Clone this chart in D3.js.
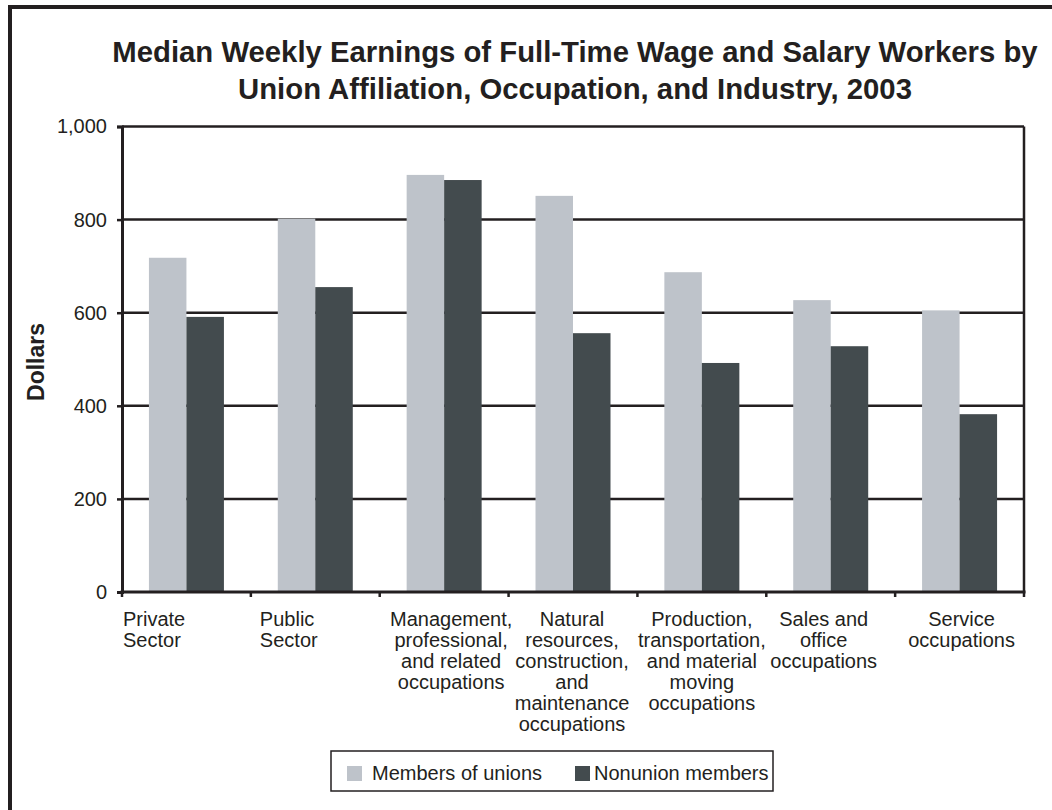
<!DOCTYPE html>
<html>
<head>
<meta charset="utf-8">
<script src="https://cdn.jsdelivr.net/npm/d3@7"></script>
<style>
  html, body { margin: 0; padding: 0; background: #ffffff; }
  svg { display: block; font-family: "Liberation Sans", Arial, sans-serif; }
</style>
</head>
<body>
<svg id="chart" width="1052" height="810"></svg>
<script>
// ---- data ----
const categories = [
  ["Private", "Sector"],
  ["Public", "Sector"],
  ["Management,", "professional,", "and related", "occupations"],
  ["Natural", "resources,", "construction,", "and", "maintenance", "occupations"],
  ["Production,", "transportation,", "and material", "moving", "occupations"],
  ["Sales and", "office", "occupations"],
  ["Service", "occupations"]
];
const seriesNames = ["Members of unions", "Nonunion members"];
const unionValues = [718, 802, 896, 851, 687, 627, 605];
const nonunionValues = [591, 655, 885, 556, 492, 528, 382];
const yTicks = [0, 200, 400, 600, 800, 1000];
const titleLines = [
  "Median Weekly Earnings of Full-Time Wage and Salary Workers by",
  "Union Affiliation, Occupation, and Industry, 2003"
];
const yAxisTitle = "Dollars";

// ---- layout / style ----
const colors = ["#bec3ca", "#434b4e"];
const ink = "#231f20";
const plot = { left: 122, right: 1024, top: 126.5, bottom: 592 };
// label placement tweaks (Excel-style wrapped labels)
const labelAlign = ["start", "start", "middle", "middle", "middle", "middle", "middle"];
const labelShift = [1, 9, 7, -1, 0, -7, 2];

const svg = d3.select("#chart");

// outer frame
svg.append("path")
  .attr("d", "M10,1000 L10,7 L1060,7")
  .attr("fill", "none").attr("stroke", ink).attr("stroke-width", 4);

// title
svg.append("g").selectAll("text").data(titleLines).join("text")
  .attr("x", 575).attr("y", (d, i) => 62 + i * 36.5)
  .attr("text-anchor", "middle")
  .attr("font-size", 29.3).attr("font-weight", "bold").attr("fill", ink)
  .text(d => d);

const idx = categories.map((d, i) => i);
const x0 = d3.scaleBand().domain(idx).range([plot.left, plot.right])
  .paddingInner(0.418).paddingOuter(0.209);
const step = x0.step();
const x1 = d3.scaleBand().domain([0, 1]).range([0, x0.bandwidth()]);
const y = d3.scaleLinear().domain([0, 1000]).range([plot.bottom, plot.top]);

// gridlines
svg.append("g").selectAll("line").data(yTicks.filter(t => t > 0)).join("line")
  .attr("x1", plot.left).attr("x2", plot.right)
  .attr("y1", d => y(d)).attr("y2", d => y(d))
  .attr("stroke", ink).attr("stroke-width", 2.5);

// bars
const rows = idx.map(i => [unionValues[i], nonunionValues[i]]);
const groups = svg.append("g").selectAll("g").data(rows).join("g")
  .attr("transform", (d, i) => `translate(${x0(i)},0)`);
groups.selectAll("rect").data(d => d).join("rect")
  .attr("x", (d, j) => x1(j)).attr("width", x1.bandwidth())
  .attr("y", d => y(d)).attr("height", d => y(0) - y(d))
  .attr("fill", (d, j) => colors[j]);

// right frame line
svg.append("line")
  .attr("x1", plot.right).attr("x2", plot.right)
  .attr("y1", plot.top).attr("y2", plot.bottom)
  .attr("stroke", ink).attr("stroke-width", 2.5);

// y axis
const yAxis = d3.axisLeft(y).tickValues(yTicks).tickSize(5).tickPadding(10)
  .tickFormat(d3.format(","));
const gy = svg.append("g").attr("transform", `translate(${plot.left},0)`).call(yAxis);
gy.select(".domain").attr("stroke", ink).attr("stroke-width", 3);
gy.selectAll(".tick line").attr("stroke", ink).attr("stroke-width", 2.5);
gy.selectAll(".tick text").attr("fill", ink).attr("font-size", 20)
  .attr("font-family", "Liberation Sans, Arial, sans-serif");

// x axis (ticks at category boundaries)
const boundaries = d3.range(categories.length + 1).map(i => plot.left + i * step);
svg.append("line")
  .attr("x1", plot.left - 1.5).attr("x2", plot.right + 1.5)
  .attr("y1", plot.bottom).attr("y2", plot.bottom)
  .attr("stroke", ink).attr("stroke-width", 3);
svg.append("g").selectAll("line").data(boundaries).join("line")
  .attr("x1", d => d).attr("x2", d => d)
  .attr("y1", plot.bottom).attr("y2", plot.bottom + 5)
  .attr("stroke", ink).attr("stroke-width", 2.5);

// category labels
const lab = svg.append("g").selectAll("text").data(categories).join("text")
  .attr("font-size", 20).attr("fill", ink)
  .attr("text-anchor", (d, i) => labelAlign[i])
  .attr("transform", (d, i) => {
    const bx = labelAlign[i] === "start" ? plot.left + i * step : x0(i) + x0.bandwidth() / 2;
    return `translate(${bx + labelShift[i]},626)`;
  });
lab.selectAll("tspan").data(d => d).join("tspan")
  .attr("x", 0).attr("y", (d, k) => k * 21)
  .text(d => d);

// y axis title
svg.append("text")
  .attr("transform", "translate(44,362) rotate(-90)")
  .attr("text-anchor", "middle")
  .attr("font-size", 23).attr("font-weight", "bold").attr("fill", ink)
  .text(yAxisTitle);

// legend
const lg = svg.append("g");
lg.append("rect").attr("x", 331).attr("y", 751).attr("width", 442).attr("height", 40)
  .attr("fill", "#fff").attr("stroke", ink).attr("stroke-width", 1.5);
const legendX = [347, 575];
const legendTextGap = [25, 19];
const li = lg.selectAll("g").data(seriesNames).join("g")
  .attr("transform", (d, i) => `translate(${legendX[i]},766)`);
li.append("rect").attr("width", 15).attr("height", 15).attr("fill", (d, i) => colors[i]);
li.append("text").attr("x", (d, i) => legendTextGap[i]).attr("y", 13.5)
  .attr("font-size", 20).attr("fill", ink).text(d => d);
</script>
</body>
</html>
